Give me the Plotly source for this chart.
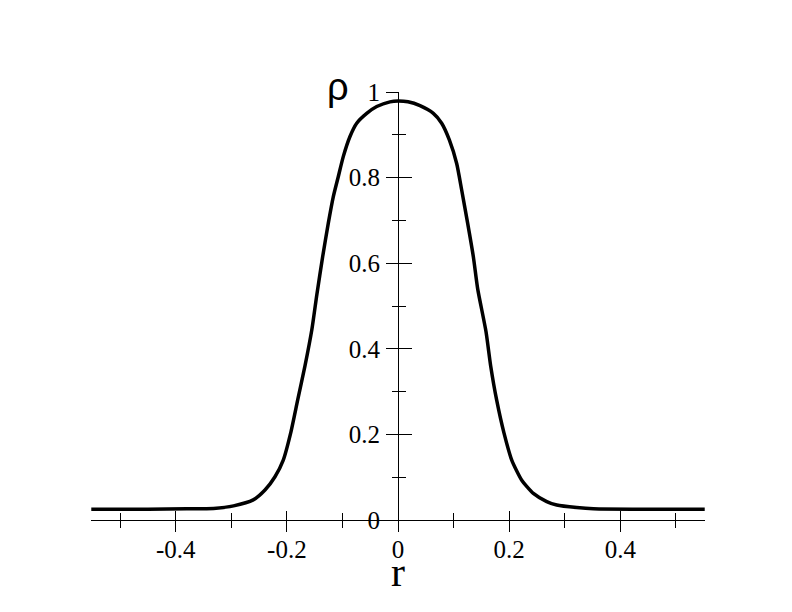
import plotly.graph_objects as go

# Density profile
r_vals = [-0.552, -0.45, -0.38, -0.332, -0.296, -0.2605, -0.2394, -0.2214, -0.2065,
          -0.1932, -0.1806, -0.1674, -0.155, -0.146, -0.1356, -0.1255, -0.1165,
          -0.1075, -0.0985, -0.0864, -0.0743, -0.0563, -0.0383, -0.0144, 0.0,
          0.0180, 0.0396, 0.0636, 0.0786, 0.0924, 0.1056, 0.1146, 0.1254, 0.1356,
          0.1434, 0.1584, 0.1668, 0.1776, 0.1908, 0.2047, 0.2227, 0.2436, 0.2677,
          0.2857, 0.3217, 0.3517, 0.45, 0.552]
rho_vals = [0.025, 0.025, 0.026, 0.027, 0.033, 0.047, 0.070, 0.101, 0.140,
            0.203, 0.280, 0.360, 0.445, 0.527, 0.615, 0.693, 0.755,
            0.802, 0.849, 0.896, 0.927, 0.950, 0.966, 0.977, 0.979,
            0.977, 0.968, 0.950, 0.927, 0.888, 0.833, 0.771, 0.693, 0.615,
            0.540, 0.440, 0.360, 0.280, 0.203, 0.140, 0.093, 0.062, 0.043,
            0.035, 0.029, 0.026, 0.025, 0.025]

x_tickvals = [-0.4, -0.2, 0, 0.2, 0.4]
x_ticktext = ["-0.4", "-0.2", "0", "0.2", "0.4"]
y_tickvals = [0, 0.2, 0.4, 0.6, 0.8, 1]
y_ticktext = ["0", "0.2", "0.4", "0.6", "0.8", "1"]

XR = [-0.5525, 0.5525]
YR = [0, 1]
SERIF = "Liberation Serif, Times New Roman, serif"

fig = go.Figure()
fig.add_trace(go.Scatter(x=r_vals, y=rho_vals, mode="lines",
                         line=dict(color="black", width=3.5, shape="spline", smoothing=0.6),
                         showlegend=False, hoverinfo="skip"))
# invisible trace on overlay axes so they render
fig.add_trace(go.Scatter(x=[0], y=[0], xaxis="x2", yaxis="y2", mode="markers",
                         marker=dict(opacity=0), showlegend=False, hoverinfo="skip"))

tick_font = dict(family=SERIF, size=25, color="black")

fig.update_layout(
    width=792, height=612,
    margin=dict(l=83, r=95, t=84, b=100),
    paper_bgcolor="white", plot_bgcolor="white",
    xaxis=dict(range=XR, showgrid=False, zeroline=False, showline=True,
               linecolor="black", linewidth=1, anchor="y",
               tickmode="linear", tick0=-0.4, dtick=0.2, showticklabels=False,
               ticks="outside", ticklen=11, tickwidth=1, tickcolor="black",
               minor=dict(ticks="outside", ticklen=7, tickwidth=1, tickcolor="black",
                          tickmode="linear", tick0=-0.5, dtick=0.1)),
    xaxis2=dict(range=XR, overlaying="x", anchor="y", showgrid=False, zeroline=False,
                showline=False, side="bottom",
                tickmode="array", tickvals=x_tickvals, ticktext=x_ticktext,
                tickfont=tick_font, ticklabelstandoff=12,
                ticks="inside", ticklen=9, tickwidth=1, tickcolor="black",
                minor=dict(ticks="inside", ticklen=7, tickwidth=1, tickcolor="black",
                           tickmode="linear", tick0=-0.5, dtick=0.1)),
    yaxis=dict(range=YR, showgrid=False, zeroline=False, showline=True,
               linecolor="black", linewidth=1, anchor="free", position=0.5,
               tickmode="array", tickvals=y_tickvals, ticktext=y_ticktext,
               ticks="outside", ticklen=12, tickwidth=1, tickcolor="black",
               tickfont=tick_font, ticklabelstandoff=1,
               minor=dict(ticks="outside", ticklen=6, tickwidth=1, tickcolor="black",
                          tickmode="linear", tick0=0.1, dtick=0.1)),
    yaxis2=dict(range=YR, overlaying="y", anchor="free", position=0.5, side="left",
                showgrid=False, zeroline=False, showline=False, showticklabels=False,
                tickmode="linear", tick0=0, dtick=0.2,
                ticks="inside", ticklen=13, tickwidth=1, tickcolor="black",
                minor=dict(ticks="inside", ticklen=7, tickwidth=1, tickcolor="black",
                           tickmode="linear", tick0=0.1, dtick=0.1)),
    annotations=[
        dict(x=0.4023, y=1.012, xref="paper", yref="paper", text="ρ", showarrow=False,
             font=dict(family="Liberation Sans, Arial, sans-serif", size=38, color="black"),
             xanchor="center", yanchor="middle"),
        dict(x=0.5, y=-0.1225, xref="paper", yref="paper", text="r", showarrow=False,
             font=dict(family=SERIF, size=42, color="black"),
             xanchor="center", yanchor="middle"),
    ],
)

fig.write_html("out.html")
